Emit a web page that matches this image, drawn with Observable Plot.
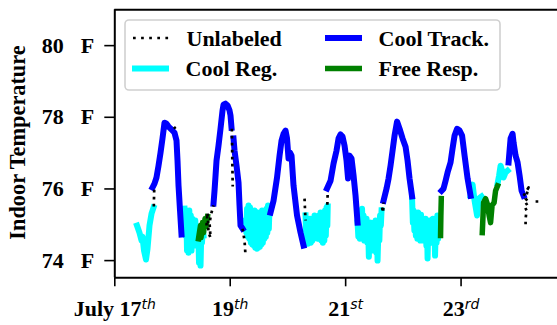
<!DOCTYPE html>
<html><head><meta charset="utf-8">
<script src="https://cdn.jsdelivr.net/npm/d3@7"></script>
<script src="https://cdn.jsdelivr.net/npm/@observablehq/plot@0.6"></script>
<style>html,body{margin:0;padding:0;background:#fff;overflow:hidden}</style>
</head><body><div id="chart"></div>
<script>
// x = hours since 00:00 July 17, y = indoor temperature (°F); null breaks a line
const hourTicks = [0, 48, 96, 144];
const tickDays = ["July 17", "19", "21", "23"];
const tickSuffix = ["th", "th", "st", "rd"];
const yTicks = [74, 76, 78, 80];
const seriesNames = ["Unlabeled", "Cool Reg.", "Cool Track.", "Free Resp."];

const coolRegHours = [
  9.23,10.27,11.11,11.52,12.15,12.98,13.60,14.43,15.27,16.10, null,
  28.99,29.41,29.74,30.03,30.36,30.65,30.99,31.28,31.61,31.90,32.24,32.53,32.86,33.15,33.48,33.77,34.11,34.40,34.73,35.02,35.35,35.65,35.98,36.27,36.60,36.89, null,
  54.36,54.70,54.99,55.32,55.61,55.94,56.24,56.57,56.86,57.19,57.48,57.82,58.11,58.44,58.73,59.06,59.35,59.69,59.98,60.31,60.60,60.94,61.23,61.56,61.85,62.18,62.47,62.81,63.10,63.43,63.72,64.06,64.35, null,
  79.32,79.65,79.94,80.28,80.57,80.90,81.19,81.52,81.82,82.15,82.44,82.77,83.06,83.40,83.69,84.02,84.31,84.64,84.93,85.27,85.56,85.89,86.18,86.52,86.81,87.14,87.43,87.76,88.05,88.39,88.55, null,
  100.95,101.28,101.57,101.91,102.20,102.53,102.82,103.15,103.44,103.78,104.07,104.40,104.69,105.03,105.32,105.65,105.94,106.27,106.57,106.90,107.19,107.52,107.81,108.15,108.44,108.77,109.06,109.27,109.68,110.02,110.31,110.64,110.93, null,
  123.62,123.95,124.24,124.57,124.87,125.20,125.49,125.82,126.12,126.45,126.74,127.07,127.36,127.69,127.99,128.32,128.61,128.94,129.23,129.57,129.86,130.07,130.40,130.69,131.02,131.31,131.65,131.94,132.27,132.56,132.89,133.18,133.52,133.81,134.14,134.43,134.77, null,
  147.95,148.79,149.62,150.66,151.28,152.53, null,
  159.18,159.80,160.43,161.05,161.68,162.51,163.34
];
const coolRegTemps = [
  74.98,74.78,74.56,74.67,74.28,74.03,74.33,74.98,75.31,75.48, null,
  75.45,74.70,75.40,74.28,75.34,74.22,75.40,74.39,75.26,74.28,75.17,74.42,75.06,74.50,75.12,74.42,74.89,74.56,74.84,73.94,74.61,73.86,74.78,74.50,74.95,74.70, null,
  75.12,74.78,75.45,74.67,75.54,74.61,75.48,74.50,75.40,74.45,75.31,74.42,75.40,74.36,75.20,74.33,75.34,74.36,75.28,74.39,75.26,74.45,75.40,74.50,75.34,74.61,75.40,74.67,75.45,74.78,75.54,74.89,75.51, null,
  75.26,74.56,75.06,74.47,75.12,74.61,75.17,74.50,74.98,74.56,75.06,74.61,75.26,74.70,75.17,74.67,75.06,74.61,75.26,74.78,75.34,74.56,75.28,74.50,75.34,74.56,75.40,74.70,75.48,74.98,75.51, null,
  75.06,74.67,75.26,74.61,75.40,74.78,75.45,74.70,75.26,74.56,75.12,74.61,75.17,74.50,75.06,74.11,74.98,74.33,75.06,74.28,74.98,74.50,74.89,74.42,75.12,74.22,74.84,74.00,74.98,74.56,75.26,74.98,75.40, null,
  75.73,75.06,75.40,74.84,75.17,74.70,75.26,74.61,75.34,74.70,75.23,74.56,75.28,74.67,75.17,74.56,75.06,74.61,75.17,74.42,74.98,74.06,74.98,74.56,75.12,74.50,75.06,74.56,75.17,74.61,75.06,74.14,74.98,74.50,75.26,74.61,74.98, null,
  75.81,76.12,75.67,75.26,75.73,75.79, null,
  76.15,76.37,76.65,76.51,76.32,76.46,76.51
];

const coolTrackHours = [
  15.68,16.51,17.34,18.18,19.01,19.84,20.67,21.50,22.34,23.58,24.83,25.66,26.08,26.50,27.12,27.74, null,
  41.05,41.47,41.89,42.30,43.13,43.96,44.80,45.21,46.04,46.88,47.71,48.12,48.54, null,
  49.37,49.79,50.62,51.45,51.87,52.28,53.12, null,
  64.76,66.01,67.47,68.51,69.34,70.17,71.00,71.62,72.25,72.87,73.50,74.33,75.78,77.24,78.49, null,
  88.26,89.72,90.97,92.21,93.04,93.88,94.71,95.54,96.37,97.00,97.62,98.45,99.29,100.12,100.95, null,
  111.76,113.01,113.84,114.67,115.51,116.34,117.38,118.42,119.67,120.91,121.75,122.58,123.62, null,
  135.89,136.72,137.56,138.39,139.63,140.46,141.30,142.34,143.38,144.42,145.46,146.71,147.95, null,
  163.76,164.17,164.59,165.42,165.84,166.67,167.50,168.34,169.17,170.00
];
const coolTrackTemps = [
  76.04,76.15,76.32,76.65,77.01,77.41,77.85,77.82,77.74,77.66,77.57,77.35,76.79,76.09,75.40,74.73, null,
  75.59,75.95,76.37,76.79,77.21,77.68,78.19,78.35,78.38,78.33,78.19,78.05,77.71, null,
  77.41,77.07,76.65,76.18,75.54,74.98,74.89, null,
  75.34,75.67,76.32,76.93,77.35,77.54,77.63,77.41,76.85,77.01,76.93,76.09,75.26,74.78,74.42, null,
  76.01,76.23,76.71,77.07,77.41,77.52,77.46,77.21,76.79,76.29,76.93,76.85,76.37,75.81,75.06, null,
  75.67,76.01,76.29,76.65,77.07,77.49,77.88,77.68,77.41,77.18,76.79,76.29,75.79, null,
  75.95,76.01,76.23,76.46,76.74,77.13,77.49,77.68,77.63,77.49,76.93,76.29,75.81, null,
  76.74,77.07,77.41,77.54,77.29,76.93,76.74,76.37,75.95,75.81
];

const freeRespHours = [
  34.81,35.65,35.85,36.48,36.89,37.52,37.93,38.56, null,
  135.47,135.60,135.77, null,
  152.82,153.36,154.19,155.02,155.65,156.27,156.89,157.73,158.35,159.18
];
const freeRespTemps = [
  74.61,74.98,74.64,75.06,74.78,75.17,74.95,75.23, null,
  74.70,75.26,75.73, null,
  74.78,75.62,75.73,75.56,75.26,75.06,75.54,75.62,75.95,76.09
];

const unlabeledHours = [
  24.62,25.25, null,
  16.22,16.39, null,
  38.14,38.56,38.97,39.81,39.39,40.22,41.05, null,
  48.67,48.87,49.04, null,
  53.12,53.95,54.36, null,
  78.91,79.11,79.32, null,
  88.39,88.55, null,
  111.14,111.56,111.76, null,
  170.00,172.08,170.83,172.28,170.21,171.24,170.83,170.83, null,
  174.99,176.65
];
const unlabeledTemps = [
  77.73,77.68, null,
  75.51,75.98, null,
  74.98,75.34,74.78,74.64,75.06,75.34,75.54, null,
  77.68,76.79,76.07, null,
  74.89,74.56,74.14, null,
  75.73,75.40,75.12, null,
  75.56,75.93, null,
  75.48,75.34,75.62, null,
  75.81,76.04,75.73,75.62,75.54,75.40,75.17,74.95, null,
  75.65,75.65
];

const colors = {"Unlabeled": "#000000", "Cool Reg.": "#00ffff", "Cool Track.": "#0000ff", "Free Resp.": "#008000"};
const xDomain = [0, 184.1];
const yDomain = [73.52, 81.0];
const rows = (hs, ts) => hs.map((h, i) => ({h, t: ts[i]}));
const FONT = "'Liberation Serif','Times New Roman',serif";
const FS = 22;

const chart = Plot.plot({
  width: 557, height: 325,
  marginLeft: 114.3, marginRight: 0, marginTop: 9.3, marginBottom: 47.7,
  x: {domain: xDomain},
  y: {domain: yDomain},
  style: {fontFamily: FONT, fontSize: FS + "px", fontWeight: "bold", background: "#fff", color: "#000"},
  marks: [
    Plot.line(rows(coolRegHours, coolRegTemps), {x: "h", y: "t", stroke: colors["Cool Reg."], strokeWidth: 6, strokeLinejoin: "round", strokeLinecap: "square"}),
    Plot.line(rows(coolTrackHours, coolTrackTemps), {x: "h", y: "t", stroke: colors["Cool Track."], strokeWidth: 6, strokeLinejoin: "round", strokeLinecap: "square"}),
    Plot.line(rows(freeRespHours, freeRespTemps), {x: "h", y: "t", stroke: colors["Free Resp."], strokeWidth: 5.5, strokeLinejoin: "round", strokeLinecap: "square"}),
    Plot.line(rows(unlabeledHours, unlabeledTemps), {x: "h", y: "t", stroke: colors["Unlabeled"], strokeWidth: 2.7, strokeDasharray: "2.7,4.3", strokeLinecap: "butt"}),
    Plot.ruleX([xDomain[0]], {strokeWidth: 2}),
    Plot.ruleY(yDomain, {strokeWidth: 2}),
    Plot.axisY(yTicks, {tickSize: 10, tickPadding: 10.5, strokeWidth: 1.6, label: null, tickFormat: d => String(d)}),
    Plot.axisX(hourTicks, {tickSize: 9, tickPadding: 14, strokeWidth: 1.6, label: null, tickFormat: d => tickDays[hourTicks.indexOf(d)]})
  ]
});
document.getElementById("chart").appendChild(chart);

const svg = d3.select(chart);
// superscripts on the date labels (math-text style: sans oblique)
svg.selectAll('g[aria-label="x-axis tick label"] text').each(function() {
  const idx = tickDays.indexOf(this.textContent);
  if (idx >= 0) d3.select(this).append("tspan")
    .attr("font-family", "'DejaVu Sans',sans-serif")
    .attr("font-size", 14).attr("font-style", "italic").attr("font-weight", "normal")
    .attr("dy", -7).text(tickSuffix[idx]);
});
// unit on the temperature labels
svg.selectAll('g[aria-label="y-axis tick label"] text').each(function() {
  d3.select(this).append("tspan").attr("dx", 17).text("F");
});
// y label
svg.append("text")
  .attr("transform", "translate(25,142.5) rotate(-90)")
  .attr("text-anchor", "middle")
  .attr("font-family", FONT).attr("font-weight", "bold").attr("font-size", 22.3)
  .text("Indoor Temperature");
// legend
const lg = svg.append("g").attr("font-family", FONT).attr("font-weight", "bold").attr("font-size", FS).attr("text-anchor", "start");
lg.append("rect").attr("x", 125).attr("y", 20).attr("width", 375).attr("height", 70).attr("rx", 4)
  .attr("fill", "#fff").attr("fill-opacity", 0.8).attr("stroke", "#d0d0d0").attr("stroke-width", 1.6);
const items = [
  {name: seriesNames[0], x: 133, y: 38, w: 2.7, dash: "2.7,5.4"},
  {name: seriesNames[1], x: 132, y: 68.5, w: 6},
  {name: seriesNames[2], x: 325, y: 38, w: 6},
  {name: seriesNames[3], x: 325, y: 68.5, w: 5.5}
];
for (const it of items) {
  const l = lg.append("line").attr("x1", it.x).attr("x2", it.x + 37).attr("y1", it.y).attr("y2", it.y)
    .attr("stroke", colors[it.name]).attr("stroke-width", it.w);
  if (it.dash) l.attr("stroke-dasharray", it.dash);
  lg.append("text").attr("x", it.x + 53.5).attr("y", it.y + 0.5).attr("dy", "0.32em").text(it.name);
}
</script>
</body></html>
